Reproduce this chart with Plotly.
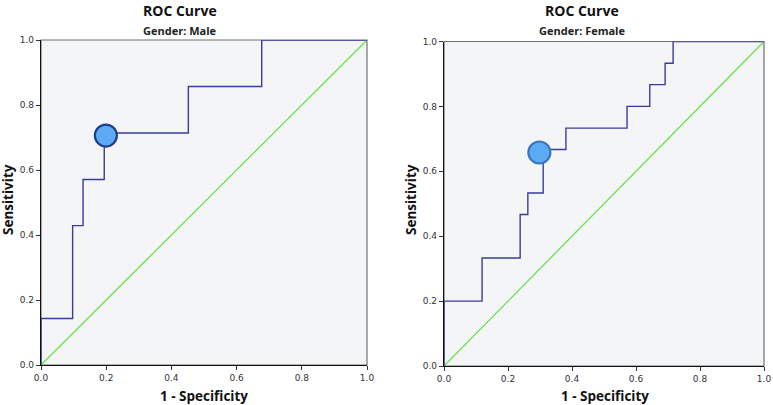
import plotly.graph_objects as go

# ---- data ----
male_fpr = [0.0, 0.0, 0.097, 0.097, 0.129, 0.129, 0.194, 0.194, 0.452, 0.452, 0.677, 0.677, 1.0]
male_tpr = [0.0, 0.143, 0.143, 0.429, 0.429, 0.571, 0.571, 0.714, 0.714, 0.857, 0.857, 1.0, 1.0]
male_cut = [0.199, 0.706]

female_fpr = [0.0, 0.0, 0.119, 0.119, 0.238, 0.238, 0.262, 0.262, 0.31, 0.31, 0.381, 0.381,
              0.572, 0.572, 0.643, 0.643, 0.691, 0.691, 0.716, 0.716, 1.0]
female_tpr = [0.0, 0.2, 0.2, 0.333, 0.333, 0.467, 0.467, 0.533, 0.533, 0.667, 0.667, 0.733,
              0.733, 0.8, 0.8, 0.867, 0.867, 0.933, 0.933, 1.0, 1.0]
female_cut = [0.298, 0.658]

ref_line = [0.0, 1.0]
tick_vals = [0.0, 0.2, 0.4, 0.6, 0.8, 1.0]
tick_text = ["0.0", "0.2", "0.4", "0.6", "0.8", "1.0"]
titles = ["Gender: Male", "Gender: Female"]

W, H = 773, 405
LINE = "#3B3B9C"
GREEN = "#6EE04E"
FILL = "#5DAAF4"

fig = go.Figure()

panels = [
    dict(fpr=male_fpr, tpr=male_tpr, cut=male_cut, xa="x", ya="y", edge="#1E3F88",
         x0=41, x1=367, y0=40, y1=365, title_cx=180, xt_cx=204),
    dict(fpr=female_fpr, tpr=female_tpr, cut=female_cut, xa="x2", ya="y2", edge="#3A76BC",
         x0=444, x1=764, y0=41.5, y1=366, title_cx=582, xt_cx=605),
]

for i, p in enumerate(panels):
    fig.add_trace(go.Scatter(x=ref_line, y=ref_line, mode="lines",
                             line=dict(color=GREEN, width=1.3),
                             xaxis=p["xa"], yaxis=p["ya"], showlegend=False, hoverinfo="skip"))
    fig.add_trace(go.Scatter(x=p["fpr"], y=p["tpr"], mode="lines",
                             line=dict(color=LINE, width=1.4),
                             xaxis=p["xa"], yaxis=p["ya"], showlegend=False, cliponaxis=False))
    fig.add_trace(go.Scatter(x=[p["cut"][0]], y=[p["cut"][1]], mode="markers",
                             marker=dict(size=22, color=FILL, line=dict(color=p["edge"], width=2.2)),
                             xaxis=p["xa"], yaxis=p["ya"], showlegend=False, cliponaxis=False))

    dom_x = [p["x0"] / W, p["x1"] / W]
    dom_y = [1 - p["y1"] / H, 1 - p["y0"] / H]
    suffix = "" if i == 0 else "2"
    axis_common = dict(range=[0, 1], tickvals=tick_vals, ticktext=tick_text,
                       ticks="outside", ticklen=4, tickwidth=1, tickcolor="#333",
                       showgrid=False, zeroline=False, showline=True, linecolor="#111",
                       linewidth=1.3, tickfont=dict(family="DejaVu Sans", size=9, color="#333"),
                       fixedrange=True, automargin=False)
    fig.layout["xaxis" + suffix] = dict(domain=dom_x, anchor="y" + suffix, **axis_common)
    fig.layout["yaxis" + suffix] = dict(domain=dom_y, anchor="x" + suffix, **axis_common)

    # frame (top/right gray)
    fig.add_shape(type="rect", xref=p["xa"] + " domain", yref=p["ya"] + " domain",
                  x0=0, x1=1, y0=0, y1=1, line=dict(color="#707070", width=1.2), layer="below")

    cx = p["title_cx"] / W
    fig.add_annotation(text="<b>ROC Curve</b>", xref="paper", yref="paper", x=cx, y=1 - 10 / H,
                       showarrow=False, font=dict(family="Open Sans", size=14, color="#111"),
                       xanchor="center", yanchor="middle")
    fig.add_annotation(text="<b>" + titles[i] + "</b>", xref="paper", yref="paper", x=cx,
                       y=1 - 31 / H, showarrow=False,
                       font=dict(family="Open Sans", size=11, color="#222"),
                       xanchor="center", yanchor="middle")
    fig.add_annotation(text="<b>1 - Specificity</b>", xref="paper", yref="paper",
                       x=p["xt_cx"] / W, y=1 - 396 / H, showarrow=False,
                       font=dict(family="Open Sans", size=13.5, color="#111"),
                       xanchor="center", yanchor="middle")
    fig.add_annotation(text="<b>Sensitivity</b>", xref="paper", yref="paper",
                       x=(p["x0"] - 33) / W, y=1 - 200 / H, showarrow=False, textangle=-90,
                       font=dict(family="Open Sans", size=13.5, color="#111"),
                       xanchor="center", yanchor="middle")

fig.update_layout(width=W, height=H, margin=dict(l=0, r=0, t=0, b=0),
                  paper_bgcolor="white", plot_bgcolor="#F3F5F7")

fig.write_html("out.html", config={"displayModeBar": False},
               post_script="document.body.style.margin='0';document.body.style.overflow='hidden';")
